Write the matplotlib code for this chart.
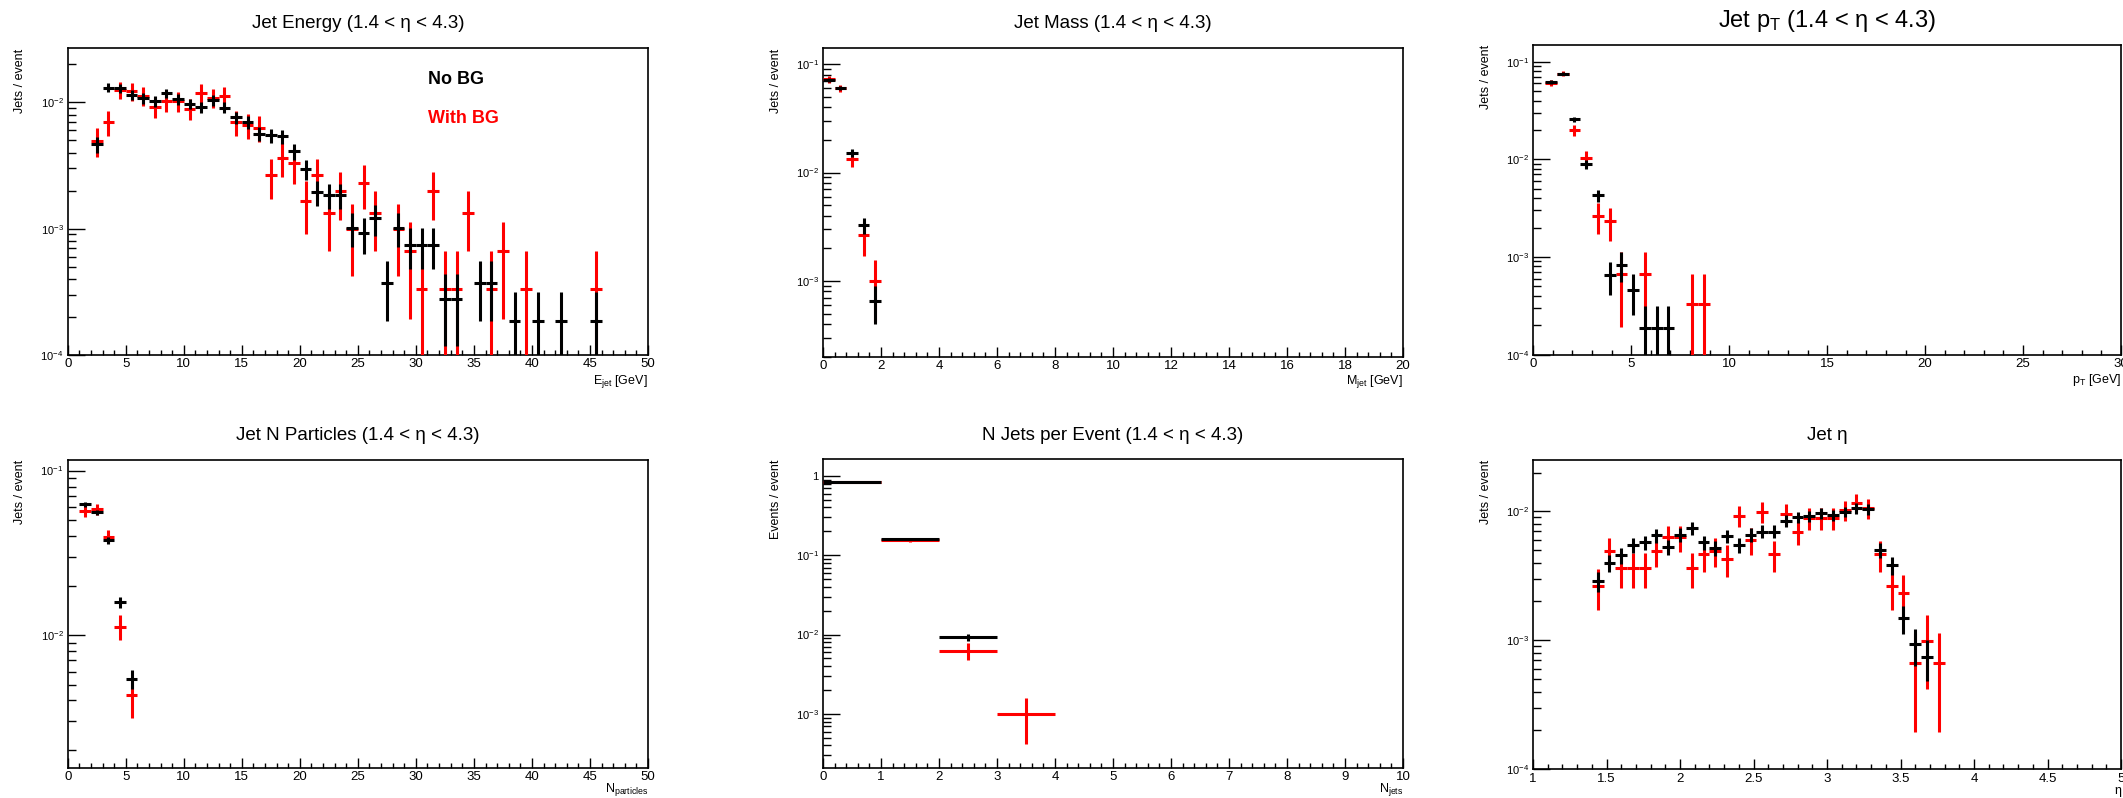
import numpy as np
import matplotlib
matplotlib.use('Agg')
import matplotlib.pyplot as plt
from matplotlib.ticker import LogLocator, MultipleLocator, FuncFormatter, NullFormatter

plt.rcParams['font.family'] = ['Liberation Sans', 'DejaVu Sans']
plt.rcParams['mathtext.fontset'] = 'custom'
plt.rcParams['mathtext.rm'] = 'Liberation Sans'
plt.rcParams['mathtext.it'] = 'Liberation Sans:italic'
plt.rcParams['mathtext.bf'] = 'Liberation Sans:bold'

# events in each sample (histograms are divided by these)
n_events_nobg = 10770
n_events_bg = 3020

# jet energy, 1 GeV bins from 2 GeV
energy_lo, energy_w = 2.0, 1.0
energy_nobg = [50, 141, 139, 123, 116, 110, 127, 114, 105, 99,
               112, 98, 82, 75, 61, 59, 58, 44, 32, 21,
               20, 20, 11, 10, 13, 4, 11, 8, 8, 8,
               3, 3, 0, 4, 4, 0, 2, 0, 2, 0,
               2, 0, 0, 2]
energy_bg = [15, 21, 38, 37, 34, 28, 31, 31, 27, 36,
             33, 34, 21, 20, 19, 8, 11, 10, 5, 8,
             4, 6, 3, 7, 4, 0, 3, 2, 1, 6,
             1, 1, 4, 0, 1, 2, 0, 1, 0, 0,
             0, 0, 0, 1]

# jet mass, 0.4 GeV bins from 0
mass_lo, mass_w = 0.0, 0.4
mass_nobg = [767, 653, 164, 35, 7]
mass_bg = [218, 182, 40, 8, 3]

# jet pT, 0.6 GeV bins from 0.6
pt_lo, pt_w = 0.6, 0.6
pt_nobg = [666, 810, 276, 96, 46, 7, 9, 5, 2, 2, 2, 0, 0, 0]
pt_bg = [182, 228, 60, 31, 8, 7, 2, 0, 2, 0, 0, 0, 1, 1]

# constituents per jet, unit bins from 1
npart_lo, npart_w = 1.0, 1.0
npart_nobg = [671, 599, 407, 171, 58]
npart_bg = [171, 176, 120, 34, 13]

# jets per event, unit bins from 0
njet_lo, njet_w = 0.0, 1.0
njet_nobg = [8926, 1745, 99, 0]
njet_bg = [2527, 471, 19, 3]

# jet eta, 0.08 bins from 1.40
eta_lo, eta_w = 1.40, 0.08
eta_nobg = [31, 43, 49, 59, 62, 70, 57, 71, 80, 62,
            56, 69, 59, 71, 75, 75, 91, 97, 99, 104,
            101, 107, 114, 112, 54, 41, 16, 10, 8, 0]
eta_bg = [8, 15, 11, 11, 11, 15, 19, 19, 11, 14,
          15, 13, 28, 18, 30, 14, 29, 21, 27, 27,
          27, 31, 35, 32, 14, 8, 7, 2, 3, 2]

W, H = 2123, 798
fig = plt.figure(figsize=(W / 100, H / 100), dpi=100)


def px_axes(left, right, top, bottom):
    return fig.add_axes([left / W, 1 - bottom / H, (right - left) / W, (bottom - top) / H])


def root_log(v, pos):
    e = int(round(np.log10(v)))
    if e == 0:
        return '1'
    return r'$10^{%d}$' % e


def draw_hist(ax, lo, width, counts, n_events, color, z):
    counts = np.asarray(counts, dtype=float)
    x = lo + width * (np.arange(len(counts)) + 0.5)
    keep = counts > 0
    y = counts[keep] / n_events
    err = np.sqrt(counts[keep]) / n_events
    low = np.minimum(err, y * 0.999)
    ax.errorbar(x[keep], y, xerr=width / 2, yerr=[low, err], fmt='none',
                ecolor=color, elinewidth=2.2, capsize=0, zorder=z)


def style_axes(ax, xlim, ylim, xmajor, xminor):
    ax.set_yscale('log')
    ax.set_xlim(xlim)
    ax.set_ylim(ylim)
    ax.xaxis.set_major_locator(MultipleLocator(xmajor))
    ax.xaxis.set_minor_locator(MultipleLocator(xminor))
    ax.xaxis.set_major_formatter(FuncFormatter(lambda v, p: '%g' % round(v, 3)))
    ax.yaxis.set_major_locator(LogLocator(base=10, numticks=12))
    ax.yaxis.set_minor_locator(LogLocator(base=10, subs=np.arange(2, 10), numticks=30))
    ax.yaxis.set_major_formatter(FuncFormatter(root_log))
    ax.yaxis.set_minor_formatter(NullFormatter())
    ax.tick_params(which='both', direction='in', top=False, right=False, color='black')
    ax.tick_params(axis='x', which='major', length=7, width=1, labelsize=9.5, pad=2.5)
    ax.tick_params(axis='x', which='minor', length=3.5, width=1)
    ax.tick_params(axis='y', which='major', length=12, width=1, labelsize=8, pad=3)
    ax.tick_params(axis='y', which='minor', length=6, width=1)
    for s in ax.spines.values():
        s.set_linewidth(1.2)


def fig_text(x, y, s, **kw):
    fig.text(x / W, 1 - y / H, s, **kw)


panels = [
    dict(frame=(67.7, 648, 48.3, 355), xlim=(0, 50), ylim=(1e-4, 2.68e-2), ticks=(5, 1),
         lo=energy_lo, w=energy_w, nobg=energy_nobg, bg=energy_bg,
         title='Jet Energy (1.4 < η < 4.3)', title_y=23, title_size=13.5,
         ylabel='Jets / event', ylab_x=20, xlabel=r'E$_\mathrm{jet}$ [GeV]', xlab_y=381),
    dict(frame=(823, 1403, 48.3, 356.7), xlim=(0, 20), ylim=(2.0e-4, 0.14), ticks=(2, 0.4),
         lo=mass_lo, w=mass_w, nobg=mass_nobg, bg=mass_bg,
         title='Jet Mass (1.4 < η < 4.3)', title_y=23, title_size=13.5,
         ylabel='Jets / event', ylab_x=776, xlabel=r'M$_\mathrm{jet}$ [GeV]', xlab_y=382),
    dict(frame=(1533.3, 2121, 45, 354.7), xlim=(0, 30), ylim=(1e-4, 0.148), ticks=(5, 1),
         lo=pt_lo, w=pt_w, nobg=pt_nobg, bg=pt_bg,
         title=r'Jet p$_\mathrm{T}$ (1.4 < η < 4.3)', title_y=21, title_size=17,
         ylabel='Jets / event', ylab_x=1486, xlabel=r'p$_\mathrm{T}$ [GeV]', xlab_y=380),
    dict(frame=(67.7, 648, 460, 767.7), xlim=(0, 50), ylim=(1.56e-3, 0.116), ticks=(5, 1),
         lo=npart_lo, w=npart_w, nobg=npart_nobg, bg=npart_bg,
         title='Jet N Particles (1.4 < η < 4.3)', title_y=435, title_size=13.5,
         ylabel='Jets / event', ylab_x=20, xlabel=r'N$_\mathrm{particles}$', xlab_y=790),
    dict(frame=(823, 1403, 459.3, 767.7), xlim=(0, 10), ylim=(2.1e-4, 1.62), ticks=(1, 0.2),
         lo=njet_lo, w=njet_w, nobg=njet_nobg, bg=njet_bg,
         title='N Jets per Event (1.4 < η < 4.3)', title_y=435, title_size=13.5,
         ylabel='Events / event', ylab_x=776, xlabel=r'N$_\mathrm{jets}$', xlab_y=790),
    dict(frame=(1533, 2121, 460, 769.3), xlim=(1, 5), ylim=(1e-4, 2.5e-2), ticks=(0.5, 0.1),
         lo=eta_lo, w=eta_w, nobg=eta_nobg, bg=eta_bg,
         title='Jet η', title_y=435, title_size=13.5,
         ylabel='Jets / event', ylab_x=1486, xlabel='η', xlab_y=791),
]

for p in panels:
    left, right, top, bottom = p['frame']
    ax = px_axes(left, right, top, bottom)
    style_axes(ax, p['xlim'], p['ylim'], *p['ticks'])
    draw_hist(ax, p['lo'], p['w'], p['bg'], n_events_bg, '#ff0000', 3)
    draw_hist(ax, p['lo'], p['w'], p['nobg'], n_events_nobg, 'black', 4)
    fig_text((left + right) / 2, p['title_y'], p['title'], ha='center', va='center',
             fontsize=p['title_size'])
    fig_text(p['ylab_x'], top, p['ylabel'], rotation=90, ha='center', va='top', fontsize=9)
    fig_text(right, p['xlab_y'], p['xlabel'], ha='right', va='center', fontsize=9)
    if p['lo'] == energy_lo:
        ax.text(0.621, 0.899, 'No BG', transform=ax.transAxes, fontsize=13,
                fontweight='bold', color='black', va='center', ha='left')
        ax.text(0.621, 0.772, 'With BG', transform=ax.transAxes, fontsize=13,
                fontweight='bold', color='#ff0000', va='center', ha='left')

fig.savefig('out.png', dpi=100)
